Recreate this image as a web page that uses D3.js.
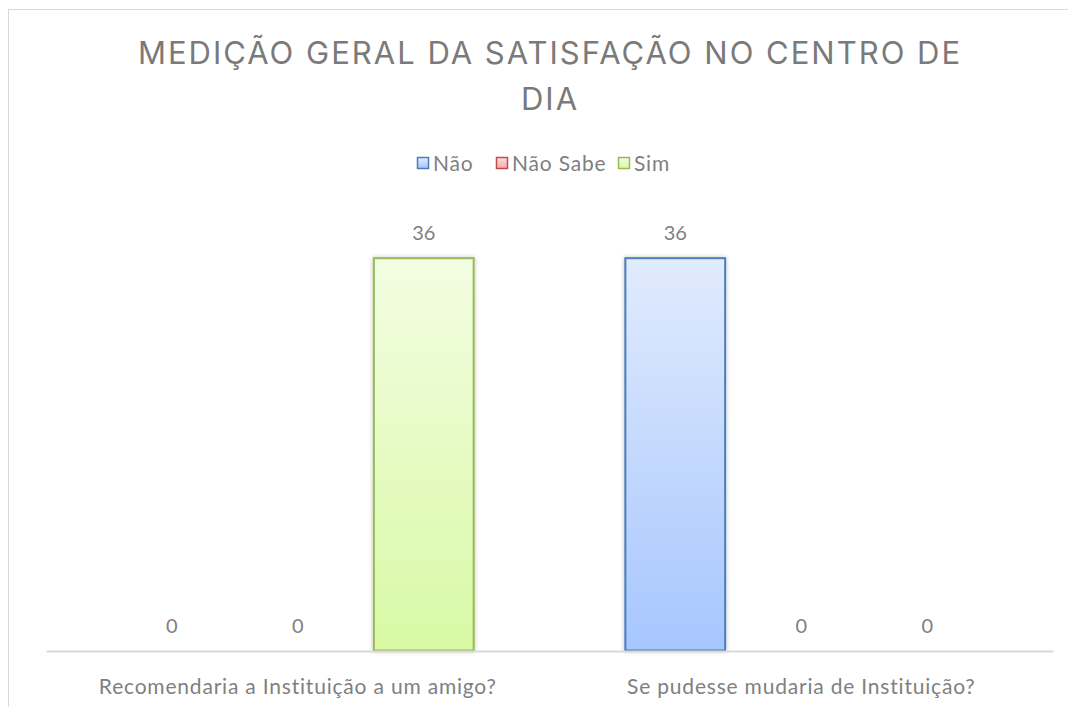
<!DOCTYPE html>
<html>
<head>
<meta charset="utf-8">
<script src="https://cdn.jsdelivr.net/npm/d3@7"></script>
<style>
  body { margin: 0; background: #fff; }
  svg { display: block; font-family: Lato, "Open Sans", sans-serif; }
</style>
</head>
<body>
<div id="chart"></div>
<script>
var categories = ["Recomendaria a Instituição a um amigo?", "Se pudesse mudaria de Instituição?"];
var seriesNames = ["Não", "Não Sabe", "Sim"];
var naoValues = [0, 36];
var naoSabeValues = [0, 0];
var simValues = [36, 0];
var titleLines = ["MEDIÇÃO GERAL DA SATISFAÇÃO NO CENTRO DE", "DIA"];

var w = 1068, h = 707;
var plotLeft = 46, plotRight = 1053, plotBottom = 651, plotTop = 214;
var labelColor = "#7f7f7f";

var colors = {
  "Não": { stroke: "#4a7ebb", top: "#e1ebfd", bottom: "#a6c6fe" },
  "Não Sabe": { stroke: "#be4b48", top: "#fde0df", bottom: "#fba6a4" },
  "Sim": { stroke: "#98b954", top: "#f3fde2", bottom: "#d8f9a5" }
};

var data = categories.map(function(c, i) {
  return { cat: c, values: [
    { key: "Não", value: naoValues[i] },
    { key: "Não Sabe", value: naoSabeValues[i] },
    { key: "Sim", value: simValues[i] }
  ]};
});

var svg = d3.select("#chart").append("svg")
  .attr("width", w)
  .attr("height", h);

var defs = svg.append("defs");
seriesNames.forEach(function(s, i) {
  var g = defs.append("linearGradient")
    .attr("id", "grad" + i)
    .attr("x1", 0).attr("y1", 0).attr("x2", 0).attr("y2", 1);
  g.append("stop").attr("offset", "0%").attr("stop-color", colors[s].top);
  g.append("stop").attr("offset", "100%").attr("stop-color", colors[s].bottom);
});
var filt = defs.append("filter").attr("id", "shadow")
  .attr("x", "-10%").attr("y", "-10%").attr("width", "130%").attr("height", "130%");
filt.append("feDropShadow").attr("dx", 0).attr("dy", 0)
  .attr("stdDeviation", 2).attr("flood-color", "#000").attr("flood-opacity", 0.25);

// chart border
svg.append("rect")
  .attr("x", 8.5).attr("y", 9.5)
  .attr("width", w + 20).attr("height", h + 20)
  .attr("fill", "none").attr("stroke", "#d9d9d9");

// title
svg.append("g").selectAll("text")
  .data(titleLines)
  .enter().append("text")
    .attr("x", 550)
    .attr("y", function(d, i) { return 64 + i * 46; })
    .attr("text-anchor", "middle")
    .attr("font-family", "Inter, Roboto, sans-serif")
    .attr("font-size", 31)
    .attr("letter-spacing", 2)
    .attr("fill", "#7a7a7a")
    .text(function(d) { return d; });

var x0 = d3.scaleBand()
  .domain(categories)
  .range([plotLeft, plotRight]);

var x1 = d3.scaleBand()
  .domain(seriesNames)
  .range([0, x0.bandwidth()])
  .paddingInner(0.2)
  .paddingOuter(0.598);

var y = d3.scaleLinear()
  .domain([0, 40])
  .range([plotBottom, plotTop]);

var groups = svg.append("g").selectAll("g")
  .data(data)
  .enter().append("g")
    .attr("transform", function(d) { return "translate(" + x0(d.cat) + ",0)"; });

groups.selectAll("rect")
  .data(function(d) { return d.values.filter(function(v) { return v.value > 0; }); })
  .enter().append("rect")
    .attr("x", function(d) { return x1(d.key) + 0.5; })
    .attr("y", function(d) { return y(d.value) + 0.5; })
    .attr("width", x1.bandwidth() - 1)
    .attr("height", function(d) { return y(0) - y(d.value) - 1; })
    .attr("fill", function(d) { return "url(#grad" + seriesNames.indexOf(d.key) + ")"; })
    .attr("stroke", function(d) { return colors[d.key].stroke; })
    .attr("stroke-width", 2)
    .attr("filter", "url(#shadow)");

groups.selectAll("text")
  .data(function(d) { return d.values; })
  .enter().append("text")
    .attr("x", function(d) { return x1(d.key) + x1.bandwidth() / 2; })
    .attr("y", function(d) { return y(d.value) - 18; })
    .attr("text-anchor", "middle")
    .attr("font-size", 20)
    .attr("fill", labelColor)
    .text(function(d) { return d.value; });

// x axis
var xAxis = svg.append("g")
  .attr("transform", "translate(0," + plotBottom + ")")
  .call(d3.axisBottom(x0).tickSize(0));
xAxis.select(".domain").attr("stroke", "#d9d9d9").attr("stroke-width", 2);
xAxis.selectAll("text")
  .attr("font-size", 21)
  .attr("letter-spacing", 0.8)
  .attr("font-family", "Lato, 'Open Sans', sans-serif")
  .attr("fill", labelColor)
  .attr("dy", null)
  .attr("y", 43);

// legend
var legendX = [417, 496, 618];
var legend = svg.append("g").selectAll("g")
  .data(seriesNames)
  .enter().append("g")
    .attr("transform", function(d, i) { return "translate(" + legendX[i] + ",157)"; });
legend.append("rect")
  .attr("x", 0.5).attr("y", 0.5)
  .attr("width", 11).attr("height", 11)
  .attr("fill", function(d, i) { return "url(#grad" + i + ")"; })
  .attr("stroke", function(d) { return colors[d].stroke; })
  .attr("stroke-width", 1.5);
legend.append("text")
  .attr("x", 16)
  .attr("y", 13.5)
  .attr("font-size", 21)
  .attr("letter-spacing", 0.8)
  .attr("fill", labelColor)
  .text(function(d) { return d; });
</script>
</body>
</html>
